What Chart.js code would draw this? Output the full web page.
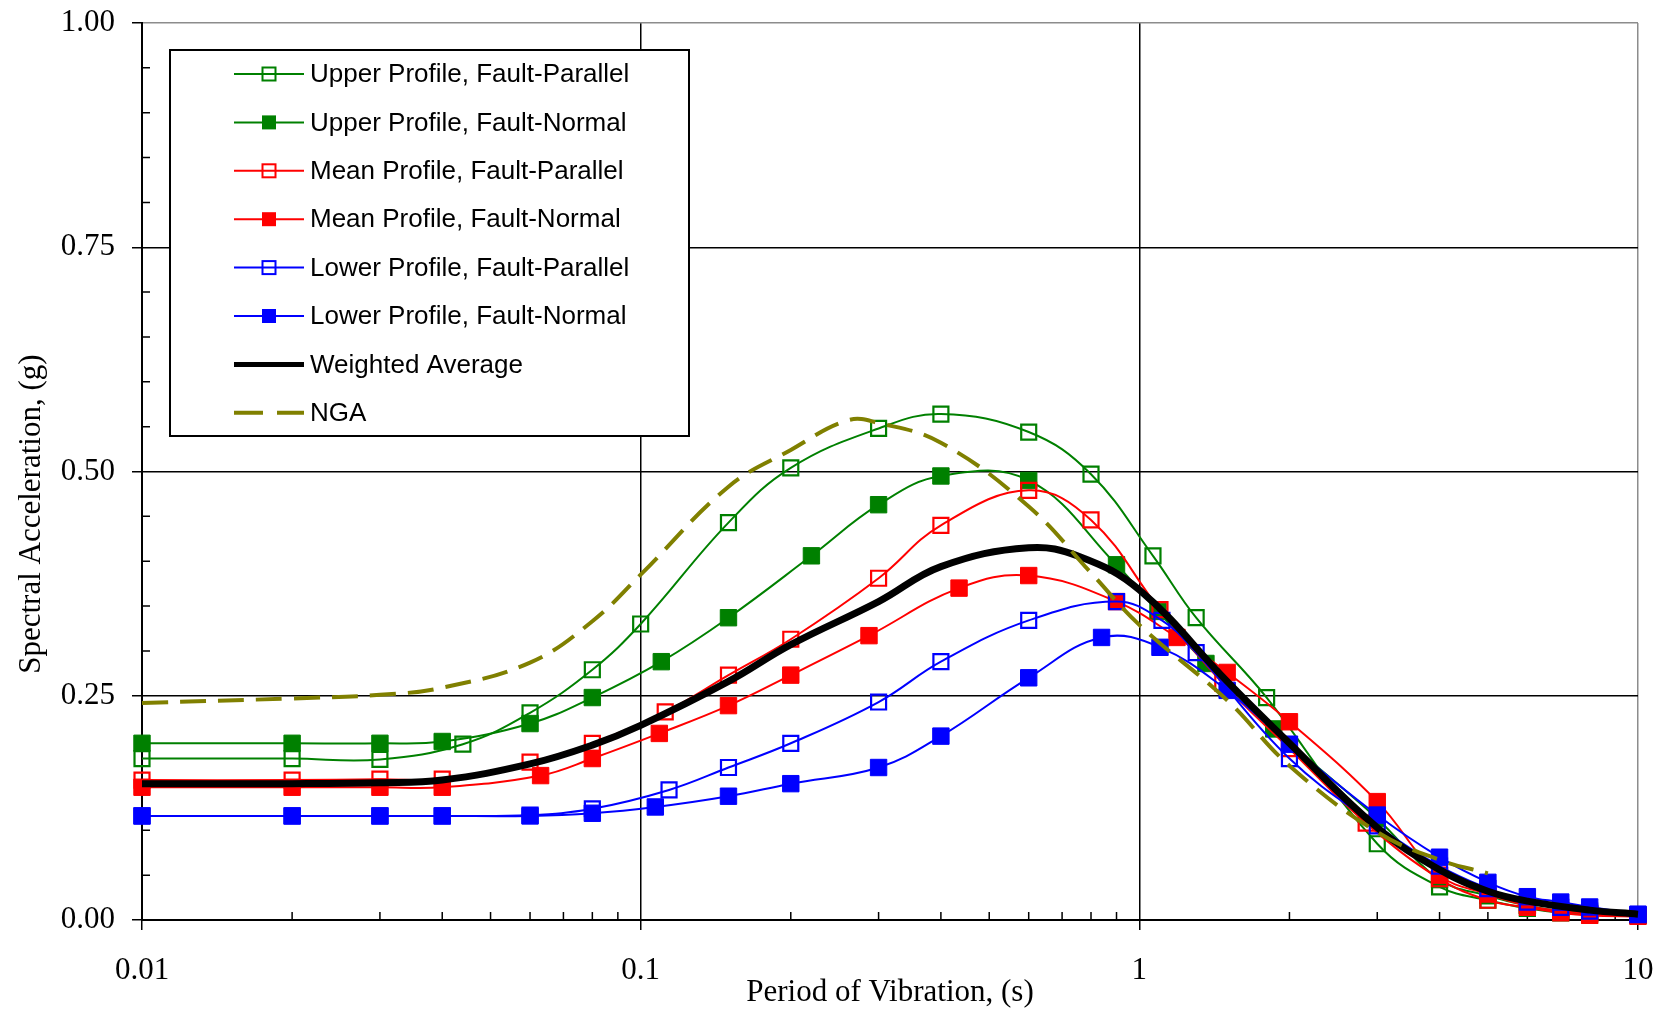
<!DOCTYPE html>
<html>
<head>
<meta charset="utf-8">
<title>Spectral Acceleration vs Period</title>
<script src="https://cdn.jsdelivr.net/npm/chart.js@4.4.1/dist/chart.umd.min.js"></script>
<style>
  html, body { margin: 0; padding: 0; background: #fff; }
  #wrap { width: 1671px; height: 1013px; }
</style>
</head>
<body>
<div id="wrap"><canvas id="spectra" width="1671" height="1013"></canvas></div>
<script>
// periods (s) and spectral accelerations (g)
const upperParT = [0.01, 0.02, 0.03, 0.044, 0.06, 0.08, 0.1, 0.15, 0.2, 0.3, 0.4, 0.6, 0.8, 1.065, 1.3, 1.8, 3, 4, 5, 6, 7, 8, 10];
const upperParSa = [0.18, 0.18, 0.179, 0.196, 0.231, 0.279, 0.33, 0.443, 0.504, 0.548, 0.564, 0.544, 0.497, 0.406, 0.337, 0.248, 0.085, 0.037, 0.022, 0.013, 0.008, 0.006, 0.005];

const upperNorT = [0.01, 0.02, 0.03, 0.04, 0.06, 0.08, 0.11, 0.15, 0.22, 0.3, 0.4, 0.6, 0.9, 1.09, 1.36, 1.86, 3, 4, 5, 6, 7, 8, 10];
const upperNorSa = [0.197, 0.197, 0.197, 0.199, 0.219, 0.248, 0.288, 0.337, 0.406, 0.463, 0.495, 0.49, 0.396, 0.344, 0.286, 0.213, 0.113, 0.045, 0.027, 0.016, 0.01, 0.008, 0.005];

const meanParT = [0.01, 0.02, 0.03, 0.04, 0.06, 0.08, 0.112, 0.15, 0.2, 0.3, 0.4, 0.6, 0.8, 1.1, 1.47, 2, 2.85, 4, 5, 6, 7, 8, 10];
const meanParSa = [0.156, 0.156, 0.157, 0.157, 0.176, 0.197, 0.232, 0.273, 0.313, 0.381, 0.44, 0.479, 0.446, 0.346, 0.264, 0.191, 0.108, 0.046, 0.022, 0.014, 0.008, 0.005, 0.004];

const meanNorT = [0.01, 0.02, 0.03, 0.04, 0.063, 0.08, 0.109, 0.15, 0.2, 0.287, 0.435, 0.6, 0.9, 1.19, 1.5, 2, 3, 4, 5, 6, 7, 8, 10];
const meanNorSa = [0.148, 0.148, 0.148, 0.148, 0.161, 0.18, 0.208, 0.239, 0.273, 0.317, 0.37, 0.384, 0.355, 0.315, 0.276, 0.221, 0.132, 0.05, 0.029, 0.016, 0.01, 0.007, 0.005];

const lowerParT = [0.01, 0.02, 0.03, 0.04, 0.06, 0.08, 0.114, 0.15, 0.2, 0.3, 0.4, 0.6, 0.9, 1.11, 1.3, 2, 3, 4, 5, 6, 7, 8, 10];
const lowerParSa = [0.116, 0.116, 0.116, 0.116, 0.117, 0.124, 0.145, 0.17, 0.197, 0.243, 0.288, 0.334, 0.355, 0.334, 0.298, 0.18, 0.105, 0.06, 0.035, 0.02, 0.014, 0.01, 0.006];

const lowerNorT = [0.01, 0.02, 0.03, 0.04, 0.06, 0.08, 0.107, 0.15, 0.2, 0.3, 0.4, 0.6, 0.84, 1.1, 1.5, 2, 3, 4, 5, 6, 7, 8, 10];
const lowerNorSa = [0.116, 0.116, 0.116, 0.116, 0.116, 0.119, 0.126, 0.138, 0.152, 0.17, 0.205, 0.27, 0.315, 0.304, 0.256, 0.196, 0.117, 0.07, 0.042, 0.026, 0.02, 0.0145, 0.0065];

const weightedT = [0.01, 0.02, 0.03, 0.04, 0.06, 0.08, 0.1, 0.15, 0.2, 0.3, 0.4, 0.6, 0.76, 1, 1.5, 2, 3, 4, 5, 6, 8, 10];
const weightedSa = [0.152, 0.152, 0.153, 0.156, 0.174, 0.195, 0.217, 0.266, 0.307, 0.355, 0.394, 0.415, 0.405, 0.368, 0.266, 0.197, 0.103, 0.056, 0.032, 0.021, 0.011, 0.0065];

const ngaT = [0.01, 0.02, 0.03, 0.04, 0.06, 0.08, 0.1, 0.15, 0.2, 0.26, 0.3, 0.4, 0.6, 0.8, 1, 1.5, 2, 3, 4, 5];
const ngaSa = [0.242, 0.247, 0.251, 0.259, 0.287, 0.333, 0.385, 0.483, 0.524, 0.557, 0.554, 0.532, 0.461, 0.387, 0.329, 0.245, 0.172, 0.098, 0.067, 0.052];

const xTickLabels = ['0.01', '0.1', '1', '10'];
const yTickLabels = ['0.00', '0.25', '0.50', '0.75', '1.00'];

// tick positions on the log axis: 1..9 in every decade, plus 10
const xTickValues = [];
for (let e = -2; e <= 0; e++) {
  for (let m = 1; m <= 9; m++) xTickValues.push(Number((m * Math.pow(10, e)).toPrecision(3)));
}
xTickValues.push(10);

const isDecade = v => xTickLabels.some(s => Math.abs(parseFloat(s) - v) < 1e-9);
const isQuarter = v => Math.abs(v / 0.25 - Math.round(v / 0.25)) < 1e-6;
const pts = (xs, ys) => xs.map((t, i) => ({ x: t, y: ys[i] }));

function profile(label, xs, ys, color, filled, order) {
  return {
    label, order,
    data: pts(xs, ys),
    borderColor: color,
    borderWidth: 2,
    pointStyle: 'rect',
    pointRadius: filled ? 11.6 : 10.6,
    pointBorderWidth: filled ? 1 : 2.2,
    pointBackgroundColor: filled ? color : 'rgba(0,0,0,0)',
    pointBorderColor: color,
    tension: 0.4,
    clip: false,
    filled
  };
}

const datasets = [
  profile('Upper Profile, Fault-Parallel', upperParT, upperParSa, '#008000', false, 7),
  profile('Upper Profile, Fault-Normal', upperNorT, upperNorSa, '#008000', true, 6),
  profile('Mean Profile, Fault-Parallel', meanParT, meanParSa, '#ff0000', false, 5),
  profile('Mean Profile, Fault-Normal', meanNorT, meanNorSa, '#ff0000', true, 4),
  profile('Lower Profile, Fault-Parallel', lowerParT, lowerParSa, '#0000ff', false, 3),
  profile('Lower Profile, Fault-Normal', lowerNorT, lowerNorSa, '#0000ff', true, 2),
  {
    label: 'Weighted Average', order: 1,
    data: pts(weightedT, weightedSa),
    borderColor: '#000', borderWidth: 7, pointRadius: 0,
    tension: 0.4, clip: false
  },
  {
    label: 'NGA', order: 0,
    data: pts(ngaT, ngaSa),
    borderColor: '#808000', borderWidth: 4, borderDash: [26, 12], pointRadius: 0,
    tension: 0.4, clip: false
  }
];

// short minor ticks pointing into the plot
const innerTicks = {
  id: 'innerTicks',
  beforeDatasetsDraw(chart) {
    const { ctx, chartArea, scales: { x, y } } = chart;
    ctx.save();
    ctx.strokeStyle = '#000';
    ctx.lineWidth = 1.5;
    ctx.beginPath();
    x.ticks.forEach(t => {
      if (isDecade(t.value)) return;
      const px = x.getPixelForValue(t.value);
      ctx.moveTo(px, chartArea.bottom);
      ctx.lineTo(px, chartArea.bottom - 8);
    });
    y.ticks.forEach(t => {
      if (isQuarter(t.value)) return;
      const py = y.getPixelForValue(t.value);
      ctx.moveTo(chartArea.left, py);
      ctx.lineTo(chartArea.left + 8, py);
    });
    ctx.stroke();
    ctx.restore();
  }
};

// boxed legend inside the plot, top left
const boxLegend = {
  id: 'boxLegend',
  afterDraw(chart) {
    const { ctx, chartArea } = chart;
    const bx = chartArea.left + 28, by = chartArea.top + 27, bw = 519, bh = 386;
    ctx.save();
    ctx.fillStyle = '#fff';
    ctx.fillRect(bx, by, bw, bh);
    ctx.strokeStyle = '#000';
    ctx.lineWidth = 2;
    ctx.strokeRect(bx, by, bw, bh);
    ctx.font = '26px "Liberation Sans", Arial, sans-serif';
    ctx.textBaseline = 'middle';
    ctx.textAlign = 'left';
    chart.data.datasets.forEach((ds, i) => {
      const cy = by + 24 + i * 48.4;
      const x0 = bx + 64, x1 = bx + 134, mx = bx + 99;
      ctx.strokeStyle = ds.borderColor;
      ctx.lineWidth = ds.pointRadius ? 2 : (ds.borderDash ? 4 : 5);
      ctx.setLineDash(ds.borderDash ? [29, 14] : []);
      ctx.beginPath();
      ctx.moveTo(x0, cy);
      ctx.lineTo(x1, cy);
      ctx.stroke();
      ctx.setLineDash([]);
      if (ds.pointRadius) {
        if (ds.filled) {
          ctx.fillStyle = ds.borderColor;
          ctx.fillRect(mx - 7, cy - 7, 14, 14);
        } else {
          ctx.lineWidth = 2;
          ctx.strokeRect(mx - 6.5, cy - 6.5, 13, 13);
        }
      }
      ctx.fillStyle = '#000';
      ctx.fillText(ds.label, bx + 140, cy + 1);
    });
    ctx.restore();
  }
};

Chart.defaults.font.family = '"Liberation Serif", "Times New Roman", serif';
Chart.defaults.color = '#000';

new Chart(document.getElementById('spectra'), {
  type: 'line',
  data: { datasets },
  options: {
    responsive: false,
    animation: false,
    events: [],
    layout: { padding: { top: 23, right: 33, bottom: 0, left: 0 } },
    plugins: { legend: { display: false }, tooltip: { enabled: false } },
    scales: {
      x: {
        type: 'logarithmic',
        min: 0.01,
        max: 10,
        afterFit: s => { s.height = 93; s.paddingLeft = 0; s.paddingRight = 0; },
        afterBuildTicks: s => { s.ticks = xTickValues.map(v => ({ value: v })); },
        ticks: {
          autoSkip: false,
          maxRotation: 0,
          padding: 22,
          font: { size: 31 },
          callback: v => xTickLabels.find(s => Math.abs(parseFloat(s) - v) < 1e-9) || ''
        },
        grid: {
          lineWidth: 1.5,
          tickLength: 10,
          tickWidth: 1.5,
          color: c => (Math.abs(c.tick.value - 10) < 1e-9 ? '#8c8c8c' : isDecade(c.tick.value) ? '#000' : 'rgba(0,0,0,0)'),
          tickColor: c => (isDecade(c.tick.value) ? '#000' : 'rgba(0,0,0,0)')
        },
        border: { color: '#000', width: 2 },
        title: {
          display: true,
          text: 'Period of Vibration, (s)',
          font: { size: 31 },
          padding: { top: 0, bottom: 2 }
        }
      },
      y: {
        min: 0,
        max: 1,
        afterFit: s => { s.width = 142; s.paddingTop = 0; s.paddingBottom = 0; },
        ticks: {
          stepSize: 0.05,
          autoSkip: false,
          padding: 17,
          font: { size: 31 },
          callback: v => (isQuarter(v) ? yTickLabels[Math.round(v / 0.25)] : '')
        },
        grid: {
          lineWidth: 1.5,
          tickLength: 10,
          tickWidth: 1.5,
          color: c => (Math.abs(c.tick.value - 1) < 1e-9 ? '#8c8c8c' : isQuarter(c.tick.value) ? '#000' : 'rgba(0,0,0,0)'),
          tickColor: c => (isQuarter(c.tick.value) ? '#000' : 'rgba(0,0,0,0)')
        },
        border: { color: '#000', width: 2 },
        title: {
          display: true,
          // trailing spaces push the rotated title down, as in the original
          text: 'Spectral Acceleration, (g)' + '\u00a0'.repeat(11),
          font: { size: 31 },
          padding: { top: 13, bottom: 0 }
        }
      }
    }
  },
  plugins: [innerTicks, boxLegend]
});
</script>
</body>
</html>
